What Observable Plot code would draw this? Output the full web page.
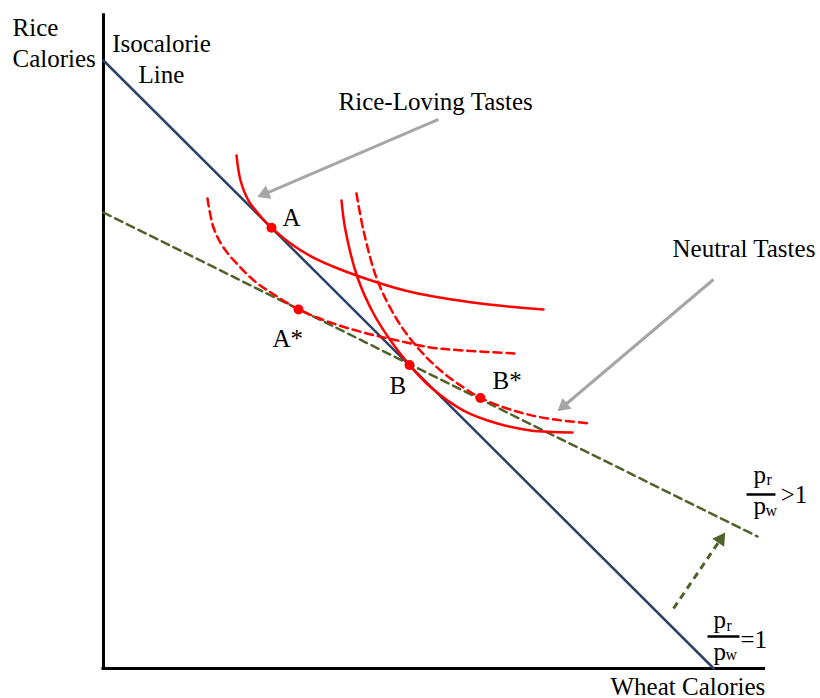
<!DOCTYPE html>
<html>
<head>
<meta charset="utf-8">
<script src="https://cdn.jsdelivr.net/npm/d3@7"></script>
<script src="https://cdn.jsdelivr.net/npm/@observablehq/plot@0.6"></script>
<style>
  html, body { margin: 0; padding: 0; background: #fff; }
  #chart svg { display: block; }
</style>
</head>
<body>
<div id="chart"></div>
<script>
// ---- Data (wheat calories on x, rice calories on y; 0-100 units) ----
const isoX = [0, 100.2];
const isoY = [100, 0];
const priceX = [0, 107.4];
const priceY = [75.0, 21.7];

const riceSolidX = [21.84, 22.50, 23.81, 26.11, 27.59, 30.71, 33.99, 38.92, 44.99, 50.90, 61.90, 72.25];
const riceSolidY = [84.38, 80.26, 76.97, 74.01, 72.50, 69.90, 67.84, 65.62, 63.49, 61.84, 60.03, 59.05];

const riceDashX = [17.08, 18.06, 19.70, 22.50, 25.29, 27.75, 32.02, 37.27, 42.69, 48.28, 53.69, 59.11, 67.65];
const riceDashY = [77.30, 72.53, 69.24, 65.95, 63.32, 61.68, 59.05, 56.91, 55.26, 53.95, 52.80, 52.30, 51.81];

const neutralSolidX = [39.08, 39.74, 41.71, 44.33, 47.13, 50.25, 53.69, 59.11, 64.70, 70.11, 77.01];
const neutralSolidY = [76.97, 72.04, 64.31, 58.39, 53.95, 49.90, 46.30, 42.43, 40.30, 39.14, 38.82];

const neutralDashX = [41.54, 42.69, 44.99, 48.28, 51.56, 55.34, 59.11, 61.90, 67.32, 72.91, 79.97];
const neutralDashY = [78.13, 72.04, 63.82, 57.24, 52.80, 49.01, 46.22, 44.50, 42.43, 41.12, 40.30];

const pointNames = ["A", "A*", "B", "B*"];
const pointX = [27.59, 32.02, 50.25, 61.90];
const pointY = [72.50, 59.05, 49.90, 44.50];

const arrowTailX = [55.0, 100.16, 93.6];
const arrowTailY = [90.3, 63.98, 9.87];
const arrowTipX = [25.45, 74.71, 101.97];
const arrowTipY = [77.63, 42.43, 22.2];

const axisXMax = 108.7;
const axisYMax = 107.7;

// ---- Annotation layout ----
const xRange = [103, 712], yRange = [668, 60];
const sx = (xRange[1] - xRange[0]) / 100, sy = (yRange[0] - yRange[1]) / 100;

const zip = (xs, ys) => xs.map((x, i) => ({x, y: ys[i]}));

const labelsStart = [
  {text: "Rice", x: -14.94, y: 103.95},
  {text: "Calories", x: -14.94, y: 98.85},
  {text: "Rice-Loving Tastes", x: 38.59, y: 91.94},
  {text: "Neutral Tastes", x: 93.43, y: 67.76},
  {text: "A", x: 29.39, y: 72.86},
  {text: "A*", x: 27.75, y: 52.80},
  {text: "B", x: 46.96, y: 45.23},
  {text: "B*", x: 63.88, y: 45.89},
  {text: "Wheat Calories", x: 83.25, y: -4.3},
  {text: "p", x: 106.73, y: 30.43},
  {text: "p", x: 106.73, y: 25.49},
  {text: ">1", x: 111.2, y: 27.30},
  {text: "p", x: 100.16, y: 6.58},
  {text: "p", x: 100.16, y: 1.48},
  {text: "=1", x: 104.6, y: 3.45}
];
const labelsMiddle = [
  {text: "Isocalorie", x: 9.52, y: 101.48},
  {text: "Line", x: 9.52, y: 96.22}
];
const subs = [
  {text: "r", x: 108.87, y: 30.10},
  {text: "w", x: 108.70, y: 25.16},
  {text: "r", x: 102.30, y: 6.25},
  {text: "w", x: 102.13, y: 1.32}
];
const bars = [
  {x1: 105.58, x2: 110.34, y: 28.62},
  {x1: 99.18, x2: 104.43, y: 5.26}
];

const arrowColors = ["#a6a6a6", "#a6a6a6", "#4f6228"];
const arrowDash = [null, null, "7,5"];
const arrows = arrowTailX.map((tx, i) => {
  const tipX = arrowTipX[i], tipY = arrowTipY[i], tailY = arrowTailY[i];
  const dxp = (tipX - tx) * sx, dyp = -(tipY - tailY) * sy;
  const len = Math.hypot(dxp, dyp);
  const ux = dxp / len, uy = dyp / len;
  const c = 7;
  return {
    x1: tx, y1: tailY,
    hx: tipX - ux * c / sx, hy: tipY + uy * c / sy,
    rot: Math.atan2(ux, -uy) * 180 / Math.PI,
    color: arrowColors[i], dash: arrowDash[i]
  };
});

const serif = "'Liberation Serif', 'Times New Roman', serif";
const red = "#ff0000";
const fs = 25;

const chart = Plot.plot({
  width: 820,
  height: 698,
  margin: 0,
  x: {domain: [0, 100], range: xRange, axis: null},
  y: {domain: [0, 100], range: yRange, axis: null},
  style: {fontFamily: serif, background: "#fff", overflow: "visible"},
  marks: [
    // axes
    Plot.ruleX([0], {y1: 0, y2: axisYMax, stroke: "black", strokeWidth: 3}),
    Plot.ruleY([0], {x1: -0.25, x2: axisXMax, stroke: "black", strokeWidth: 3}),
    // budget lines
    Plot.line(zip(isoX, isoY), {x: "x", y: "y", stroke: "#2b4266", strokeWidth: 2.5}),
    Plot.line(zip(priceX, priceY), {x: "x", y: "y", stroke: "#4f6228", strokeWidth: 2.5, strokeDasharray: "8,5"}),
    // indifference curves
    Plot.line(zip(riceSolidX, riceSolidY), {x: "x", y: "y", curve: "catmull-rom", stroke: red, strokeWidth: 2.5}),
    Plot.line(zip(riceDashX, riceDashY), {x: "x", y: "y", curve: "catmull-rom", stroke: red, strokeWidth: 2.5, strokeDasharray: "8,5"}),
    Plot.line(zip(neutralSolidX, neutralSolidY), {x: "x", y: "y", curve: "catmull-rom", stroke: red, strokeWidth: 2.5}),
    Plot.line(zip(neutralDashX, neutralDashY), {x: "x", y: "y", curve: "catmull-rom", stroke: red, strokeWidth: 2.5, strokeDasharray: "8,5"}),
    // arrows
    ...arrows.map(a => Plot.link([a], {x1: "x1", y1: "y1", x2: "hx", y2: "hy", stroke: a.color, strokeWidth: 3, strokeDasharray: a.dash || undefined})),
    Plot.dot(arrows, {x: "hx", y: "hy", symbol: "triangle", r: 5.3, fill: "color", stroke: "none", rotate: "rot"}),
    // points
    Plot.dot(pointNames.map((n, i) => ({n, x: pointX[i], y: pointY[i]})), {x: "x", y: "y", r: 5, fill: red, stroke: "none"}),
    // fraction bars
    Plot.link(bars, {x1: "x1", x2: "x2", y1: "y", y2: "y", stroke: "black", strokeWidth: 2.5}),
    // texts
    Plot.text(labelsStart, {x: "x", y: "y", text: "text", textAnchor: "start", lineAnchor: "bottom", fontSize: fs, fill: "black"}),
    Plot.text(labelsMiddle, {x: "x", y: "y", text: "text", textAnchor: "middle", lineAnchor: "bottom", fontSize: fs, fill: "black"}),
    Plot.text(subs, {x: "x", y: "y", text: "text", textAnchor: "start", lineAnchor: "bottom", fontSize: 16, fill: "black"})
  ]
});
document.getElementById("chart").appendChild(chart);
</script>
</body>
</html>
